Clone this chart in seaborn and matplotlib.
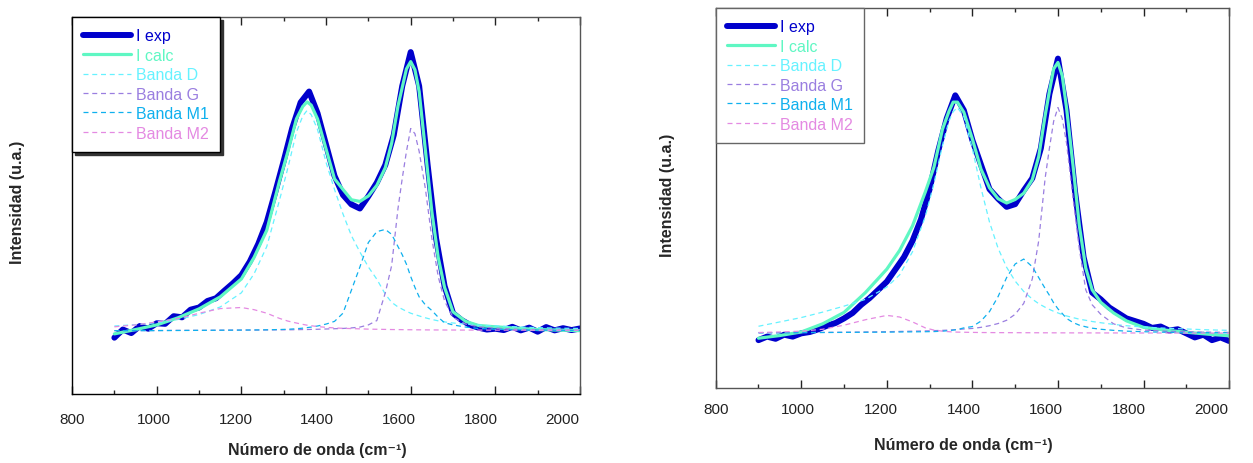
import matplotlib
matplotlib.use('Agg')
import matplotlib.pyplot as plt
import matplotlib.transforms as mtransforms
from matplotlib.ticker import MultipleLocator
import seaborn as sns

# numero de onda (cm-1) comun a las bandas y al ajuste
wn = [900, 950, 1000, 1050, 1100, 1150, 1200, 1230, 1260, 1290, 1310, 1330, 1345, 1355,
      1365, 1380, 1400, 1420, 1440, 1460, 1480, 1500, 1520, 1540, 1555, 1570, 1580, 1590,
      1600, 1610, 1620, 1635, 1650, 1665, 1680, 1700, 1730, 1760, 1800, 1850, 1900, 1950, 2000]

# espectro experimental (paso de 20 cm-1)
wn_exp = [900, 920, 940, 960, 980, 1000, 1020, 1040, 1060, 1080, 1100, 1120, 1140, 1160,
          1180, 1200, 1220, 1240, 1260, 1280, 1300, 1320, 1340, 1360, 1380, 1400, 1420, 1440,
          1460, 1480, 1500, 1520, 1540, 1560, 1580, 1600, 1620, 1640, 1660, 1680, 1700, 1720,
          1740, 1760, 1780, 1800, 1820, 1840, 1860, 1880, 1900, 1920, 1940, 1960, 1980, 2000]

# ---- muestra 1 (izquierda) ----
exp_a = [-2.5, 0.5, -0.8, 1.8, 0.8, 2.8, 2.6, 5.4, 5.0, 7.8, 8.6, 11.0, 12.0, 14.8,
         17.5, 20.5, 25.5, 32, 40, 51, 62.5, 74.5, 84, 88, 80, 68.5, 57, 50,
         46.5, 45, 49.5, 54.5, 61, 72, 90, 102.5, 90, 61, 34, 16.5, 6.5, 4,
         2.2, 1.2, 0.5, 0.8, 0.3, 1.5, 0.2, 1.2, -0.3, 1.4, 0.2, 1.0, 0.3, 0.9]
calc_a = [-1.1, 0.5, 2.2, 4.8, 8.1, 12.5, 19.1, 27, 37, 55, 66, 77.9, 82.5, 84.2,
          83, 77.9, 66.9, 55.9, 52, 48.2, 47.6, 49.6, 53.5, 60, 69, 82.7, 89.5, 96.3,
          99, 96, 88, 66, 43.8, 27, 16, 7, 3.5, 2.0, 1.5, 1.0, 0.5, 0.3, 0.1]
banda_d_a = [1.8, 2.3, 3.0, 4.2, 6.0, 8.8, 14, 21, 31, 48, 60, 73, 79, 81,
             79.5, 74, 62, 52, 43, 35, 29, 23.5, 19, 13.5, 10.5, 8.8, 8, 7.2,
             6.5, 6, 5.5, 4.8, 4.2, 3.7, 3.3, 2.9, 2.5, 2.1, 1.8, 1.5, 1.2, 1.0, 0.9]
banda_g_a = [0.1, 0.1, 0.15, 0.2, 0.2, 0.25, 0.3, 0.3, 0.35, 0.4, 0.4, 0.45, 0.5, 0.5,
             0.55, 0.6, 0.7, 0.8, 0.9, 1.1, 1.4, 2.2, 3.8, 14, 24, 45, 56, 66,
             74.4, 72.5, 66, 52, 34, 20, 11, 5, 2.5, 1.5, 1.0, 0.6, 0.4, 0.3, 0.2]
banda_m1_a = [0.1, 0.1, 0.1, 0.15, 0.2, 0.25, 0.3, 0.35, 0.4, 0.5, 0.6, 0.8, 1.0, 1.2,
              1.4, 1.8, 2.5, 3.5, 6.5, 15, 23.5, 32.5, 36.5, 37.3, 35.5, 31, 28, 24.5,
              20, 16, 12.5, 9.5, 7.5, 5, 3, 2.2, 1.4, 0.9, 0.6, 0.4, 0.3, 0.2, 0.15]
banda_m2_a = [1.5, 2.2, 3.3, 4.5, 6.5, 8.2, 8.6, 7.8, 6.5, 4.6, 3.6, 2.9, 2.4, 2.1,
              1.9, 1.6, 1.3, 1.1, 0.95, 0.85, 0.75, 0.65, 0.6, 0.55, 0.5, 0.48, 0.46, 0.44,
              0.42, 0.4, 0.39, 0.37, 0.35, 0.34, 0.33, 0.32, 0.3, 0.29, 0.28, 0.27, 0.26, 0.25, 0.25]

# ---- muestra 2 (derecha) ----
exp_b = [-2.5, -1.2, -2.0, -0.5, -1.2, 0.0, 0.5, 1.5, 2.8, 3.8, 5.5, 7.5, 10.5, 13.0,
         16.0, 19.0, 23.5, 28, 34, 42, 53, 67, 79, 87.5, 82, 71, 62, 53,
         49.5, 46.5, 47.5, 52.5, 57, 68, 88, 101, 82, 52, 28, 15, 12.5, 9.5,
         7.5, 5.5, 4.5, 3.5, 2.0, 2.5, 1.0, 1.5, 0.0, -1.5, -0.5, -2.5, -1.5, -2.8]
calc_b = [-1.8, -0.8, 0.5, 3.5, 7.7, 15, 23.6, 30.5, 39.5, 52, 61, 75, 81.5, 85,
          85, 81.3, 71.4, 60.4, 53.5, 49.5, 47.9, 49.2, 51.5, 56.5, 65, 80, 89, 97.2,
          99.6, 94.7, 83, 62, 39.6, 24, 16, 11.4, 7.5, 4.6, 2.2, 1.2, 0.4, -0.3, -0.9]
banda_d_b = [2.6, 4.2, 5.8, 7.8, 10, 12.5, 17, 21.5, 30, 43, 55, 69, 78, 81.5,
             83, 79.7, 67.8, 53.5, 40.9, 31.3, 24.3, 19.2, 15.4, 12.6, 10.9, 9.6, 8.8, 8.1,
             7.5, 6.9, 6.4, 5.8, 5.2, 4.8, 4.35, 3.9, 3.3, 2.8, 2.3, 1.9, 1.6, 1.3, 1.1]
banda_g_b = [0.2, 0.25, 0.3, 0.35, 0.4, 0.5, 0.6, 0.7, 0.8, 0.9, 1.0, 1.1, 1.2, 1.3,
             1.4, 1.6, 1.8, 2.2, 2.8, 3.6, 4.8, 7, 11, 20, 34, 57, 68, 78,
             83, 79, 70, 50, 31, 16, 10.5, 7, 3.5, 2, 1.2, 0.8, 0.6, 0.45, 0.35]
banda_m1_b = [0.2, 0.2, 0.25, 0.3, 0.35, 0.4, 0.45, 0.5, 0.55, 0.6, 0.65, 0.8, 1.0, 1.2,
              1.4, 2.0, 2.5, 4.5, 8, 13.5, 20.5, 25.5, 27.3, 24.5, 20.5, 16.5, 14, 11.2,
              9, 7.3, 5.5, 4, 3, 2.4, 1.9, 1.5, 1.1, 0.8, 0.6, 0.4, 0.3, 0.25, 0.2]
banda_m2_b = [0.3, 0.5, 0.8, 1.5, 3.0, 5.0, 6.6, 6.0, 4.2, 2.0, 1.2, 0.8, 0.6, 0.5,
              0.45, 0.4, 0.35, 0.3, 0.28, 0.26, 0.25, 0.24, 0.23, 0.22, 0.21, 0.2, 0.2, 0.19,
              0.19, 0.18, 0.18, 0.17, 0.17, 0.16, 0.16, 0.15, 0.15, 0.14, 0.13, 0.12, 0.11, 0.1, 0.1]

band_names = ['Banda D', 'Banda G', 'Banda M1', 'Banda M2']
x_ticks = [800, 1000, 1200, 1400, 1600, 1800, 2000]

c_exp = '#0000cc'
c_calc = '#5ff7c3'
band_colors = ['#66f2ff', '#9a7ee0', '#0fb0ee', '#e48ae2']

sns.set_style('white')
plt.rcParams['font.family'] = ['Liberation Sans', 'DejaVu Sans']

fig = plt.figure(figsize=(12.53, 4.64), dpi=100)
ax1 = fig.add_axes([0.0575, 0.1487, 0.4054, 0.8125])
ax2 = fig.add_axes([0.5712, 0.1616, 0.4097, 0.819])


def draw_panel(ax, exp, calc, bands, ylim, spine_col, edge, shadow, pad, xlab_y, ylab_x):
    sns.lineplot(x=wn_exp, y=exp, ax=ax, color=c_exp, lw=4.3, label='I exp', errorbar=None)
    sns.lineplot(x=wn, y=calc, ax=ax, color=c_calc, lw=2.3, label='I calc', errorbar=None)
    for vals, name, col in zip(bands, band_names, band_colors):
        sns.lineplot(x=wn, y=vals, ax=ax, color=col, lw=0.9, linestyle=(0, (4, 3)),
                     label=name, errorbar=None)

    ax.set_xlim(800, 2000)
    ax.set_ylim(*ylim)
    ax.set_xticks(x_ticks)
    ax.xaxis.set_minor_locator(MultipleLocator(100))
    ax.set_yticks([])
    ax.tick_params(axis='x', which='major', direction='in', length=6, width=1,
                   top=True, bottom=True, labelsize=11, pad=pad, colors='#222222')
    ax.tick_params(axis='x', which='minor', direction='in', length=3, width=1,
                   top=True, bottom=True)
    for k, lab in enumerate(ax.get_xticklabels()):
        lab.set_transform(lab.get_transform() +
                          mtransforms.ScaledTranslation(-2.9 * k / 100, 0, fig.dpi_scale_trans))

    for side, sp in ax.spines.items():
        sp.set_color(spine_col[side])
        sp.set_linewidth(1.0)

    ax.set_xlabel('Número de onda (cm⁻¹)', fontsize=11.5, fontweight='bold')
    ax.set_ylabel('Intensidad (u.a.)', fontsize=11.5, fontweight='bold')
    ax.xaxis.set_label_coords(0.482, xlab_y)
    ax.yaxis.set_label_coords(ylab_x, 0.51)

    leg = ax.legend(loc='upper left', borderaxespad=0, fontsize=11.5, handlelength=3.0,
                    handletextpad=0.3, labelspacing=0.28, borderpad=0.7, fancybox=False,
                    framealpha=1, edgecolor=edge, shadow=shadow)
    leg.get_frame().set_linewidth(1.0)
    for txt, line in zip(leg.get_texts(), leg.get_lines()):
        txt.set_color(line.get_color())


draw_panel(ax1, exp_a, calc_a, [banda_d_a, banda_g_a, banda_m1_a, banda_m2_a],
           (-23.2, 115.4),
           {'left': 'black', 'bottom': 'black', 'top': '#555555', 'right': '#555555'},
           'black', {'color': '#333333', 'alpha': 1}, 13, -0.127, -0.092)
draw_panel(ax2, exp_b, calc_b, [banda_d_b, banda_g_b, banda_m1_b, banda_m2_b],
           (-20.1, 119.6),
           {'left': '#444444', 'bottom': '#555555', 'top': '#555555', 'right': '#555555'},
           '#666666', False, 10, -0.129, -0.08)

fig.savefig('out.png', dpi=100)
